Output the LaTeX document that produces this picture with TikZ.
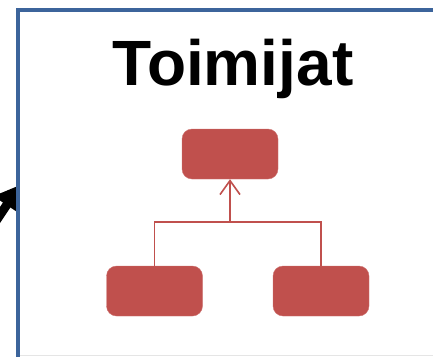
\documentclass[tikz,border=0pt]{standalone}
\usepackage{fontspec}
\setmainfont{Liberation Sans}
\definecolor{boxred}{RGB}{192, 80, 77}
\definecolor{frameblue}{RGB}{60, 100, 155}
\usetikzlibrary{arrows.meta, positioning}

\begin{document}
\begin{tikzpicture}[
  x=1pt, y=-1pt,
  rolebox/.style={fill=boxred, draw=boxred!80!white, rounded corners=10pt, minimum width=96pt, minimum height=50pt, inner sep=0pt},
  link/.style={draw=boxred, line width=1.6pt}
]
  \useasboundingbox (0,0) rectangle (433,356);

  % Pointer from outside
  \coordinate (ptail) at (-14,236);
  \coordinate (ptip) at (20,185);
  \draw[line width=9pt, line cap=round, -{Triangle[length=24pt, width=30pt]}] (ptail) -- (ptip);

  % Frame
  \draw[frameblue, line width=4pt] (18,360) -- (18,10) -- (440,10);
  \draw[black!10, line width=0.8pt] (20,355) -- (433,355);

  % Title
  \node (title) at (233,69) {\fontsize{64}{70}\selectfont\bfseries Toimijat};

  % Boxes
  \node[rolebox] (topbox) at (230,154) {};
  \node[rolebox] (leftbox) at (154.5,291) {};
  \node[rolebox] (rightbox) at (321,291) {};

  % Connectors
  \coordinate (junction) at (230,222);
  \draw[link] (leftbox.north) |- (junction) -| (rightbox.north);
  \draw[link, -{Straight Barb[length=14pt, width=20pt]}] (junction) -- (topbox.south);
\end{tikzpicture}
\end{document}
